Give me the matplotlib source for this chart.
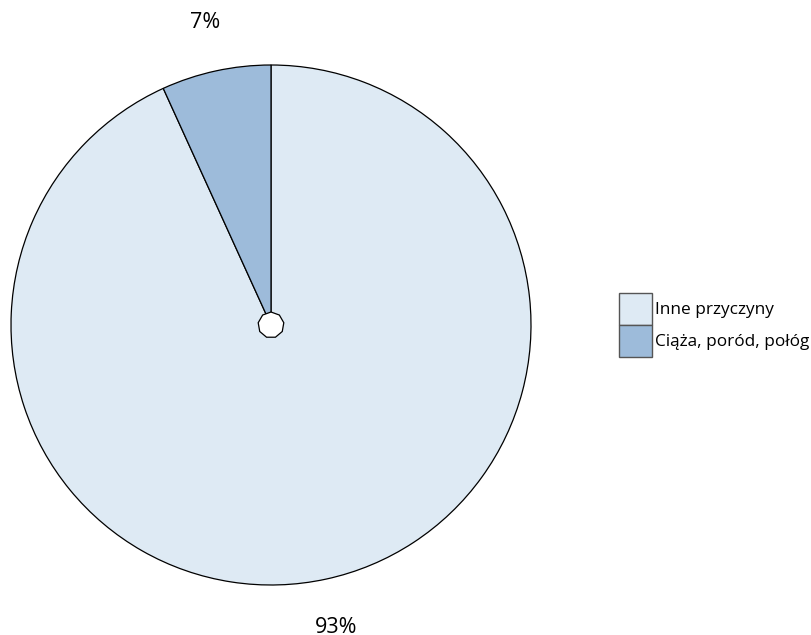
import matplotlib
matplotlib.use("Agg")
import matplotlib.pyplot as plt
from matplotlib.patches import Patch, RegularPolygon

plt.rcParams['font.family'] = ['Open Sans', 'DejaVu Sans']

categories = ["Inne przyczyny", "Ciąża, poród, połóg"]
values = [93.2, 6.8]
colors = ["#deeaf4", "#9dbbda"]

fig = plt.figure(figsize=(8.11, 6.35), dpi=100)
W, H = 811, 635
cx, cy, r = 271, 325, 260
ax = fig.add_axes([(cx - r) / W, (H - cy - r) / H, 2 * r / W, 2 * r / H])
wedges, texts, autotexts = ax.pie(values, colors=colors, startangle=90, counterclock=False,
                                  autopct="%.0f%%", pctdistance=1.19,
                                  wedgeprops=dict(edgecolor="black", linewidth=0.9),
                                  textprops=dict(fontsize=15.5))
for t in autotexts:
    t.set_horizontalalignment("center")
    t.set_verticalalignment("center")
ax.add_patch(RegularPolygon((0, 0), numVertices=9, radius=0.05, facecolor="white",
                            edgecolor="black", linewidth=0.9, zorder=5))
ax.set_xlim(-1, 1)
ax.set_ylim(-1, 1)
ax.set_aspect("equal")
ax.axis("off")

handles = [Patch(facecolor=c, edgecolor="#555555", linewidth=1) for c in colors]
fig.legend(handles, categories, loc="center left",
           bbox_to_anchor=(619 / W, (H - 325) / H), frameon=False,
           fontsize=12.4, handlelength=1.92, handleheight=2.5, handletextpad=0.15,
           labelspacing=0.0, borderpad=0, borderaxespad=0)

fig.savefig("out.png", dpi=100)
